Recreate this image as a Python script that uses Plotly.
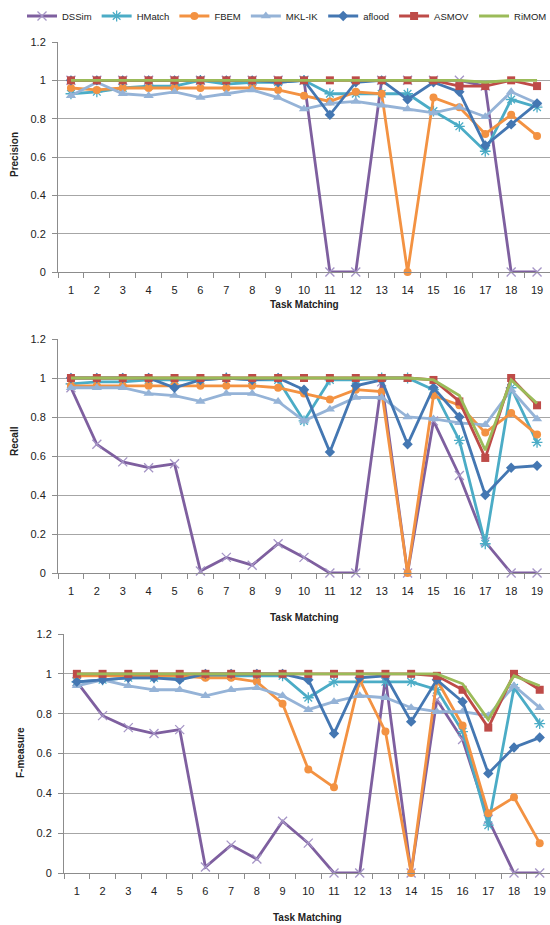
import plotly.graph_objects as go

tasks = list(range(1, 20))
series_names = ["DSSim", "HMatch", "FBEM", "MKL-IK", "aflood", "ASMOV", "RiMOM"]
y_ticks = [0, 0.2, 0.4, 0.6, 0.8, 1, 1.2]

# Precision
p_dssim = [1, 1, 1, 1, 1, 1, 1, 1, 1, 1, 0, 0, 1, 1, 1, 1, 0.97, 0, 0]
p_hmatch = [0.93, 0.94, 0.96, 0.97, 0.97, 1.0, 0.98, 0.99, 0.99, 1.0, 0.93, 0.93, 0.93, 0.93, 0.84, 0.76, 0.63, 0.90, 0.86]
p_fbem = [0.96, 0.95, 0.96, 0.96, 0.96, 0.96, 0.96, 0.96, 0.95, 0.92, 0.89, 0.94, 0.93, 0, 0.91, 0.86, 0.72, 0.82, 0.71]
p_mklik = [0.92, 0.99, 0.93, 0.92, 0.94, 0.91, 0.93, 0.95, 0.91, 0.85, 0.88, 0.89, 0.87, 0.85, 0.83, 0.86, 0.81, 0.94, 0.88]
p_aflood = [1, 1, 1, 1, 1, 1, 1, 1, 0.99, 1, 0.82, 0.99, 1, 0.90, 0.99, 0.94, 0.66, 0.77, 0.88]
p_asmov = [1, 1, 1, 1, 1, 1, 1, 1, 1, 1, 1, 1, 1, 1, 1, 0.97, 0.97, 1, 0.97]
p_rimom = [1, 1, 1, 1, 1, 1, 1, 1, 1, 1, 1, 1, 1, 1, 1, 1, 0.99, 1, 1]

# Recall
r_dssim = [0.95, 0.66, 0.57, 0.54, 0.56, 0.01, 0.08, 0.04, 0.15, 0.08, 0, 0, 0.98, 0, 0.78, 0.50, 0.16, 0, 0]
r_hmatch = [0.97, 0.98, 0.98, 0.99, 0.99, 0.99, 1.0, 0.99, 0.99, 0.78, 0.99, 0.99, 1.0, 1.0, 0.94, 0.68, 0.15, 0.95, 0.67]
r_fbem = [0.96, 0.96, 0.96, 0.96, 0.96, 0.96, 0.96, 0.96, 0.95, 0.92, 0.89, 0.94, 0.93, 0, 0.91, 0.86, 0.72, 0.82, 0.71]
r_mklik = [0.95, 0.95, 0.95, 0.92, 0.91, 0.88, 0.92, 0.92, 0.88, 0.78, 0.84, 0.90, 0.90, 0.80, 0.79, 0.77, 0.76, 0.94, 0.79]
r_aflood = [1, 1, 1, 1, 0.95, 0.99, 1, 0.99, 1, 0.94, 0.62, 0.96, 0.99, 0.66, 0.95, 0.80, 0.40, 0.54, 0.55]
r_asmov = [1, 1, 1, 1, 1, 1, 1, 1, 1, 1, 1, 1, 1, 1, 0.99, 0.88, 0.59, 1, 0.86]
r_rimom = [1, 1, 1, 1, 1, 1, 1, 1, 1, 1, 1, 1, 1, 1, 0.99, 0.91, 0.63, 0.99, 0.87]

# F-measure
f_dssim = [0.96, 0.79, 0.73, 0.70, 0.72, 0.03, 0.14, 0.07, 0.26, 0.15, 0, 0, 0.98, 0, 0.87, 0.67, 0.27, 0, 0]
f_hmatch = [0.96, 0.97, 0.98, 0.98, 0.98, 0.99, 0.99, 0.99, 0.99, 0.88, 0.96, 0.96, 0.96, 0.96, 0.92, 0.71, 0.24, 0.93, 0.75]
f_fbem = [0.99, 0.99, 0.99, 0.99, 0.99, 0.98, 0.98, 0.96, 0.85, 0.52, 0.43, 0.97, 0.71, 0, 0.97, 0.74, 0.30, 0.38, 0.15]
f_mklik = [0.94, 0.97, 0.94, 0.92, 0.92, 0.89, 0.92, 0.93, 0.89, 0.82, 0.86, 0.89, 0.88, 0.83, 0.81, 0.81, 0.79, 0.94, 0.83]
f_aflood = [0.96, 0.97, 0.98, 0.98, 0.97, 1.0, 1.0, 1.0, 1.0, 0.97, 0.70, 0.98, 0.99, 0.76, 0.97, 0.86, 0.50, 0.63, 0.68]
f_asmov = [1, 1, 1, 1, 1, 1, 1, 1, 1, 1, 1, 1, 1, 1, 0.99, 0.92, 0.73, 1, 0.92]
f_rimom = [1, 1, 1, 1, 1, 1, 1, 1, 1, 1, 1, 1, 1, 1, 1, 0.95, 0.77, 0.99, 0.94]

panels = [
    ("Precision", [p_dssim, p_hmatch, p_fbem, p_mklik, p_aflood, p_asmov, p_rimom]),
    ("Recall", [r_dssim, r_hmatch, r_fbem, r_mklik, r_aflood, r_asmov, r_rimom]),
    ("F-measure", [f_dssim, f_hmatch, f_fbem, f_mklik, f_aflood, f_asmov, f_rimom]),
]

styles = {
    "DSSim": dict(line="#7E5F9F", marker="#A595C6", symbol="x-thin-open", size=9),
    "HMatch": dict(line="#4BACC6", marker="#4BACC6", symbol="asterisk-open", size=9),
    "FBEM": dict(line="#F39242", marker="#F39242", symbol="circle", size=8),
    "MKL-IK": dict(line="#95B3D7", marker="#95B3D7", symbol="triangle-up", size=9),
    "aflood": dict(line="#4477B2", marker="#4477B2", symbol="diamond", size=8),
    "ASMOV": dict(line="#BE4B48", marker="#BE4B48", symbol="square", size=8),
    "RiMOM": dict(line="#9BBB59", marker="#9BBB59", symbol=None, size=0),
}

W, H = 550, 925
x_domains = [[58 / W, 1.0], [58 / W, 1.0], [64 / W, 1.0]]
x_ranges = [[0.5, 19.5], [0.5, 19.5], [0.5, 19.4]]
y_domains = [[1 - 272 / H, 1 - 42 / H], [1 - 573 / H, 1 - 339 / H], [1 - 873 / H, 1 - 634 / H]]
title_y_px = [304, 617, 917]
ylab_px = [(14, 155), (14, 441), (20, 753)]

fig = go.Figure()
font_family = "Liberation Sans, Arial, sans-serif"

for i, (label, data) in enumerate(panels):
    xa = "x" if i == 0 else f"x{i+1}"
    ya = "y" if i == 0 else f"y{i+1}"
    for name, vals in zip(series_names, data):
        st = styles[name]
        mode = "lines" if st["symbol"] is None else "lines+markers"
        marker = dict(color=st["marker"], size=st["size"])
        if st["symbol"] is not None:
            marker["symbol"] = st["symbol"]
            if "open" in st["symbol"]:
                marker["line"] = dict(color=st["marker"], width=1.3)
        fig.add_trace(go.Scatter(
            x=tasks, y=vals, name=name, mode=mode,
            line=dict(color=st["line"], width=2.8),
            marker=marker,
            xaxis=xa, yaxis=ya, showlegend=(i == 0), legendgroup=name,
            cliponaxis=False,
        ))

    axis_common = dict(
        showline=True, linecolor="#8C8C8C", linewidth=1, automargin=False,
        tickfont=dict(family=font_family, size=11, color="#222"),
    )
    xkey = "xaxis" if i == 0 else f"xaxis{i+1}"
    ykey = "yaxis" if i == 0 else f"yaxis{i+1}"
    fig.update_layout(**{
        xkey: dict(
            domain=x_domains[i], range=x_ranges[i], anchor=ya,
            tickmode="array", tickvals=tasks, ticks="", ticklabelstandoff=8,
            showgrid=False, zeroline=False,
            minor=dict(ticks="outside", tick0=0.5, dtick=1, ticklen=5,
                       tickcolor="#8C8C8C", showgrid=False),
            **axis_common,
        ),
        ykey: dict(
            domain=y_domains[i], range=[0, 1.2], anchor=xa,
            tickmode="array", tickvals=y_ticks, ticks="outside", ticklen=5,
            tickcolor="#8C8C8C", showgrid=True, gridcolor="#A6A6A6", gridwidth=1,
            zeroline=False, ticklabelstandoff=4,
            **axis_common,
        ),
    })
    xd = x_domains[i]
    fig.add_annotation(
        text="<b>Task Matching</b>", xref="paper", yref="paper",
        x=(xd[0] + xd[1]) / 2, y=1 - title_y_px[i] / H,
        showarrow=False, font=dict(family=font_family, size=10, color="#222"),
        xanchor="center", yanchor="middle",
    )
    lx, ly = ylab_px[i]
    fig.add_annotation(
        text=f"<b>{label}</b>", xref="paper", yref="paper",
        x=lx / W, y=1 - ly / H, textangle=-90,
        showarrow=False, font=dict(family=font_family, size=10, color="#222"),
        xanchor="center", yanchor="middle",
    )

fig.update_layout(
    width=W, height=H,
    margin=dict(l=0, r=0, t=0, b=0, autoexpand=False),
    paper_bgcolor="white", plot_bgcolor="white",
    showlegend=True,
    legend=dict(
        orientation="h", x=22 / W, y=1 - 16 / H, xanchor="left", yanchor="middle",
        font=dict(family=font_family, size=9.5, color="#222"),
        itemwidth=30, tracegroupgap=0, bgcolor="rgba(0,0,0,0)",
    ),
)

fig.write_html(
    "out.html",
    config={"displayModeBar": False},
    post_script="document.body.style.margin='0';document.body.style.overflow='hidden';",
)
